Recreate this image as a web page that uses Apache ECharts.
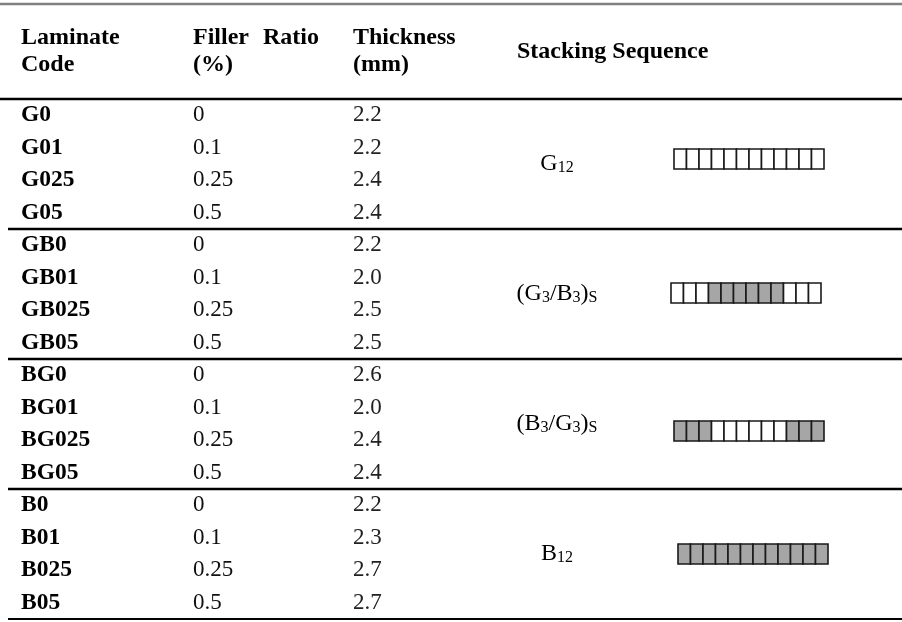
<!DOCTYPE html>
<html>
<head>
<meta charset="utf-8">
<script src="https://cdn.jsdelivr.net/npm/echarts@6/dist/echarts.min.js"></script>
<style>
html,body{margin:0;padding:0;background:#fff;}
#chart{width:902px;height:622px;}
</style>
</head>
<body>
<div id="chart"></div>
<script>
// ---------------- data ----------------
const codes = ['G0','G01','G025','G05','GB0','GB01','GB025','GB05','BG0','BG01','BG025','BG05','B0','B01','B025','B05'];
const fillerRatio = [0,0.1,0.25,0.5, 0,0.1,0.25,0.5, 0,0.1,0.25,0.5, 0,0.1,0.25,0.5];
const thickness = [2.2,2.2,2.4,2.4, 2.2,2.0,2.5,2.5, 2.6,2.0,2.4,2.4, 2.2,2.3,2.7,2.7];
const headers = [['Laminate','Code'],['Filler Ratio','(%)'],['Thickness','(mm)'],['Stacking Sequence']];
const sequenceLabels = ['{m|G}{s|12}','{m|(G}{s|3}{m|/B}{s|3}{m|)}{s|S}','{m|(B}{s|3}{m|/G}{s|3}{m|)}{s|S}','{m|B}{s|12}'];
const plyStacks = ['GGGGGGGGGGGG','GGGBBBBBBGGG','BBBGGGGGGBBB','BBBBBBBBBBBB'];

// ---------------- layout / style ----------------
const FONT = '"Liberation Serif", "Times New Roman", serif';
const colX = [21, 193, 353];
const headerX = [21, 193, 353, 517];
const headerJustifyX = [null, 263, null, null]; // x of 2nd word in justified first header line
const seqX = 557;
const plyX0 = 674, plyW = 12.5, plyH = 20;
const boxDx = [0, -3, 0, 4];
const boxDy = [-5, -1, 7, 0];
const rowsPerGroup = 4;

const chart = echarts.init(document.getElementById('chart'), null, {renderer:'canvas'});

function hText(txt, x, y) {
  return {type:'text', x: x, y: y, style:{text: txt, fontFamily: FONT, fontWeight:'bold', fontSize:24, fill:'#000', align:'left', verticalAlign:'middle'}};
}
const headerGraphics = [];
headers.forEach((lines, k) => {
  if (lines.length === 2) {
    if (headerJustifyX[k] !== null) {
      const words = lines[0].split(' ');
      headerGraphics.push(hText(words[0], headerX[k], 37.6));
      headerGraphics.push(hText(words.slice(1).join(' '), headerJustifyX[k], 37.6));
    } else {
      headerGraphics.push(hText(lines[0], headerX[k], 37.6));
    }
    headerGraphics.push(hText(lines[1], headerX[k], 64.9));
  } else {
    headerGraphics.push(hText(lines[0], headerX[k], 51.9));
  }
});

const option = {
  animation: false,
  backgroundColor: '#fff',
  grid: {left: 0, right: 0, top: 99, bottom: 3, containLabel: false},
  xAxis: {
    type: 'value', min: 0, max: 902, position: 'top',
    axisLine: {show: true, onZero: false, lineStyle: {color: '#000', width: 2.3}},
    axisTick: {show: false}, axisLabel: {show: false}, splitLine: {show: false}
  },
  yAxis: {
    type: 'category', data: codes, inverse: true, show: false,
    axisLine: {show: false}, axisTick: {show: false}, axisLabel: {show: false}, splitLine: {show: false}
  },
  graphic: [
    {type:'line', shape:{x1:0, y1:4, x2:902, y2:4}, style:{stroke:'#808080', lineWidth:2.3}},
    ...headerGraphics
  ],
  series: [
    {
      type: 'custom',
      data: codes.map((c, i) => [0, i]),
      encode: {x: 0, y: 1},
      renderItem: function (params, api) {
        const i = params.dataIndex;
        const yc = api.coord([0, i])[1];
        const bh = api.size([0, 1])[1];
        const tx = (k) => api.coord([colX[k], i])[0];
        const children = [
          {type:'text', x: tx(0), y: yc, style:{text: codes[i], fontFamily: FONT, fontWeight:'bold', fontSize:23.5, fill:'#000', align:'left', verticalAlign:'middle'}},
          {type:'text', x: tx(1), y: yc, style:{text: String(fillerRatio[i]), fontFamily: FONT, fontSize:23, fill:'#111', align:'left', verticalAlign:'middle'}},
          {type:'text', x: tx(2), y: yc, style:{text: thickness[i].toFixed(1), fontFamily: FONT, fontSize:23, fill:'#222', align:'left', verticalAlign:'middle'}}
        ];
        if (i % rowsPerGroup === rowsPerGroup - 1) {
          const ly = yc + bh / 2;
          children.push({type:'line', shape:{x1: 8, y1: ly, x2: api.coord([902, i])[0], y2: ly},
            style:{stroke:'#000', lineWidth: i === codes.length - 1 ? 1.8 : 2.3}});
        }
        return {type:'group', children: children};
      }
    },
    {
      type: 'custom',
      data: plyStacks.map((s, g) => [0, g * rowsPerGroup]),
      encode: {x: 0, y: 1},
      renderItem: function (params, api) {
        const g = params.dataIndex;
        const r0 = g * rowsPerGroup;
        const bh = api.size([0, 1])[1];
        const top = api.coord([0, r0])[1] - bh / 2;
        const bottom = api.coord([0, r0 + rowsPerGroup - 1])[1] + bh / 2;
        const yc = (top + bottom) / 2;
        const children = [{
          type:'text', x: api.coord([seqX, r0])[0], y: yc,
          style:{
            text: sequenceLabels[g], align:'center', verticalAlign:'middle', fill:'#000',
            rich: {
              m: {fontFamily: FONT, fontSize: 24, fill:'#000', verticalAlign:'bottom'},
              s: {fontFamily: FONT, fontSize: 16, fill:'#000', verticalAlign:'bottom'}
            }
          }
        }];
        const stack = plyStacks[g];
        const x0 = api.coord([plyX0 + boxDx[g], r0])[0];
        for (let k = 0; k < stack.length; k++) {
          children.push({
            type:'rect',
            shape:{x: x0 + k * plyW, y: yc + boxDy[g] - plyH / 2, width: plyW, height: plyH},
            style:{fill: stack[k] === 'B' ? '#a6a6a6' : '#fff', stroke:'#1a1a1a', lineWidth: 1.6}
          });
        }
        return {type:'group', children: children};
      }
    }
  ]
};
chart.setOption(option);
</script>
</body>
</html>
